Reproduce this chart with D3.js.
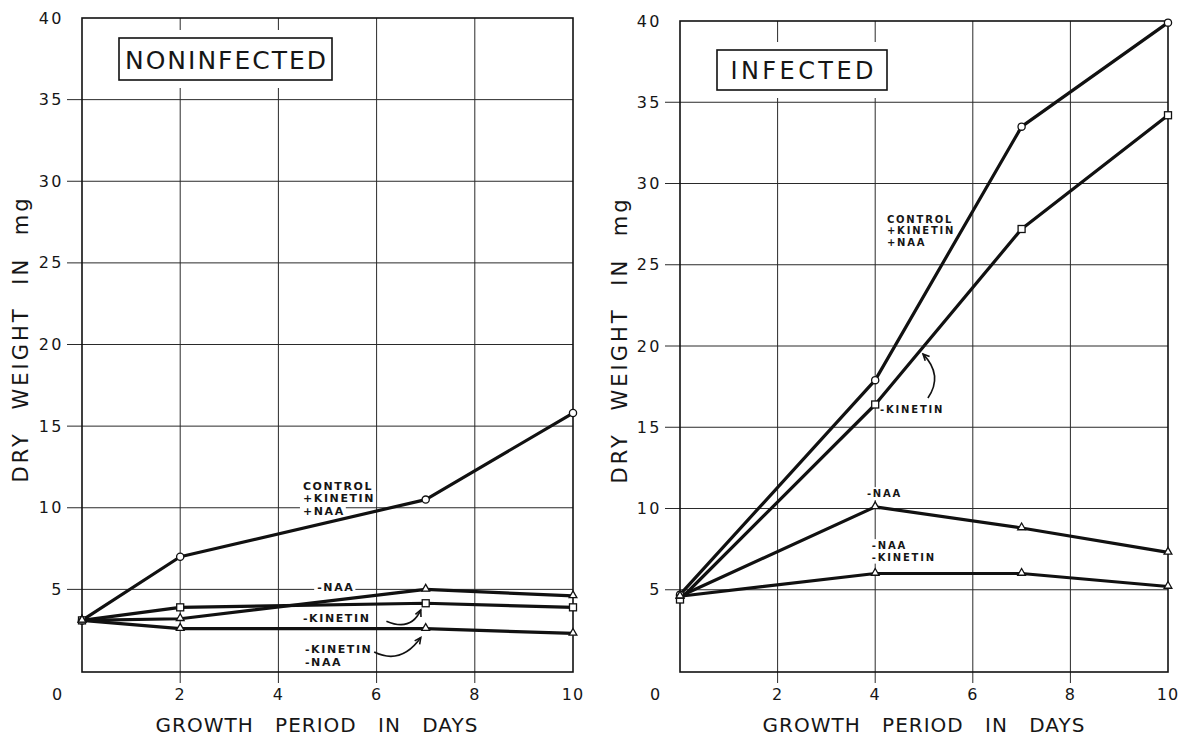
<!DOCTYPE html>
<html><head><meta charset="utf-8">
<script src="https://cdn.jsdelivr.net/npm/d3@7"></script>
<style>
body{margin:0;background:#fff}
svg{display:block}
text{font-family:"DejaVu Sans",sans-serif;fill:#161616}
</style>
</head><body>
<svg id="chart" width="1180" height="739"></svg>
<script>
// ---- data ----
const yTickValues = [5, 10, 15, 20, 25, 30, 35, 40];
const yTickLabels = ["5", "10", "15", "20", "25", "30", "35", "40"];
const xTickValues = [2, 4, 6, 8, 10];
const xTickLabels = ["2", "4", "6", "8", "10"];
const zeroLabel = "0";
const xTitle = "GROWTH PERIOD IN DAYS";
const yTitle = "DRY WEIGHT IN mg";

const nonDays = [0, 2, 7, 10];
const nonControl = [3.1, 7.0, 10.5, 15.8];
const nonMinusKinetin = [3.1, 3.9, 4.15, 3.9];
const nonMinusNAA = [3.1, 3.2, 5.0, 4.6];
const nonMinusBoth = [3.1, 2.6, 2.6, 2.3];

const infDays = [0, 4, 7, 10];
const infControl = [4.7, 17.9, 33.5, 39.9];
const infMinusKinetin = [4.4, 16.4, 27.2, 34.2];
const infMinusNAA = [4.6, 10.1, 8.8, 7.3];
const infMinusBoth = [4.6, 6.0, 6.0, 5.2];

const nonLabels = [
  {lines: ["CONTROL", "+KINETIN", "+NAA"], day: 4.5, value: 11.1},
  {lines: ["-NAA"], day: 4.79, value: 4.9},
  {lines: ["-KINETIN"], day: 4.5, value: 3.0},
  {lines: ["-KINETIN", "-NAA"], day: 4.54, value: 1.1}
];
const infLabels = [
  {lines: ["CONTROL", "+KINETIN", "+NAA"], day: 4.24, value: 27.6},
  {lines: ["-KINETIN"], day: 4.1, value: 15.9},
  {lines: ["-NAA"], day: 3.83, value: 10.7},
  {lines: ["-NAA", "-KINETIN"], day: 3.93, value: 7.5}
];
// arrows: [start, control, end] in (day, value)
const nonArrows = [
  [[6.2, 3.05], [6.7, 2.4], [6.9, 3.74]],
  [[5.95, 1.16], [6.5, 0.35], [6.9, 2.05]]
];
const infArrows = [
  [[5.08, 16.8], [5.4, 18.2], [4.98, 19.5]]
];

// ---- layout ----
const panels = [
  {title: "NONINFECTED", days: nonDays,
   series: [{v: nonControl, m: "circle"}, {v: nonMinusKinetin, m: "square"},
            {v: nonMinusNAA, m: "triangle"}, {v: nonMinusBoth, m: "triangle"}],
   labels: nonLabels, arrows: nonArrows,
   x0: 82, x1: 573, yTop: 18, yZero: 671,
   box: {x: 119, y: 38, w: 213, h: 42, textW: 201, fs: 25},
   labelFs: 11, labelLS: 1.6, lineGap: 12.5, titleX: 20, xTitleC: 317},
  {title: "INFECTED", days: infDays,
   series: [{v: infControl, m: "circle"}, {v: infMinusKinetin, m: "square"},
            {v: infMinusNAA, m: "triangle"}, {v: infMinusBoth, m: "triangle"}],
   labels: infLabels, arrows: infArrows,
   x0: 680, x1: 1168, yTop: 21, yZero: 671,
   box: {x: 717, y: 50, w: 170, h: 40, textW: 143, fs: 24},
   labelFs: 10, labelLS: 1.8, lineGap: 11.5, titleX: 619, xTitleC: 924}
];

const svg = d3.select("#chart");
svg.append("rect").attr("width", 1180).attr("height", 739).attr("fill", "#fff");

panels.forEach(p => {
  const x = d3.scaleLinear().domain([0, 10]).range([p.x0, p.x1]);
  const y = d3.scaleLinear().domain([0, 40]).range([p.yZero, p.yTop]);
  const g = svg.append("g");

  // grid: horizontal lines with outward ticks
  yTickValues.filter(v => v < 40).forEach(v => {
    g.append("line").attr("x1", p.x0 - 15).attr("x2", p.x1)
      .attr("y1", y(v)).attr("y2", y(v))
      .attr("stroke", "#2a2a2a").attr("stroke-width", 1);
  });
  // vertical lines with downward ticks
  xTickValues.filter(v => v < 10).forEach(v => {
    g.append("line").attr("x1", x(v)).attr("x2", x(v))
      .attr("y1", p.yTop).attr("y2", y(0) + 12)
      .attr("stroke", "#2a2a2a").attr("stroke-width", 1);
  });

  // frame
  g.append("rect").attr("x", p.x0).attr("y", p.yTop)
    .attr("width", p.x1 - p.x0).attr("height", y(0) + 1 - p.yTop)
    .attr("fill", "none").attr("stroke", "#111").attr("stroke-width", 1.6);

  // y tick labels
  yTickValues.forEach((v, i) => {
    g.append("text").attr("x", p.x0 - 18).attr("y", y(v))
      .attr("text-anchor", "end").attr("dominant-baseline", "central")
      .attr("font-size", 16).attr("letter-spacing", 2.5)
      .text(yTickLabels[i]);
  });
  // x tick labels
  xTickValues.forEach((v, i) => {
    g.append("text").attr("x", x(v)).attr("y", 700)
      .attr("text-anchor", "middle").attr("font-size", 16).attr("letter-spacing", 1)
      .text(xTickLabels[i]);
  });
  g.append("text").attr("x", p.x0 - 25).attr("y", 700)
    .attr("text-anchor", "middle").attr("font-size", 16).text(zeroLabel);

  // axis titles
  g.append("text").attr("x", p.xTitleC).attr("y", 732)
    .attr("text-anchor", "middle").attr("font-size", 20)
    .attr("letter-spacing", 1).attr("word-spacing", 14)
    .text(xTitle);
  g.append("text")
    .attr("transform", `translate(${p.titleX + 8},${y(12.5) - 128}) rotate(-90)`)
    .attr("text-anchor", "middle").attr("font-size", 21)
    .attr("letter-spacing", 3).attr("word-spacing", 12)
    .text(yTitle);

  // title box
  const b = p.box;
  g.append("rect").attr("x", b.x - 8).attr("y", b.y - 8)
    .attr("width", b.w + 16).attr("height", b.h + 16).attr("fill", "#fff");
  g.append("rect").attr("x", b.x).attr("y", b.y).attr("width", b.w).attr("height", b.h)
    .attr("fill", "#fff").attr("stroke", "#111").attr("stroke-width", 1.6);
  g.append("text").attr("x", b.x + b.w / 2).attr("y", b.y + b.h / 2 + 1)
    .attr("text-anchor", "middle").attr("dominant-baseline", "central")
    .attr("font-size", b.fs).attr("textLength", b.textW).attr("lengthAdjust", "spacing")
    .text(p.title);

  // labels (white backing to break gridlines)
  const labelG = g.append("g");
  const bgG = labelG.append("g");
  const txtNodes = [];
  p.labels.forEach(l => {
    l.lines.forEach((s, k) => {
      const t = labelG.append("text").attr("x", x(l.day)).attr("y", y(l.value) + k * p.lineGap)
        .attr("font-size", p.labelFs).attr("font-weight", "bold")
        .attr("letter-spacing", p.labelLS).text(s);
      txtNodes.push(t.node());
    });
  });
  txtNodes.forEach(n => {
    const bb = n.getBBox();
    bgG.append("rect").attr("x", bb.x - 3).attr("y", bb.y - 1)
      .attr("width", bb.width + 4).attr("height", bb.height + 2).attr("fill", "#fff");
  });

  // data lines
  const line = d3.line().x((d, i) => x(p.days[i])).y(d => y(d));
  p.series.forEach(s => {
    g.append("path").datum(s.v).attr("d", line)
      .attr("fill", "none").attr("stroke", "#111").attr("stroke-width", 3.2)
      .attr("stroke-linejoin", "round");
  });

  // markers
  p.series.forEach(s => {
    s.v.forEach((v, i) => {
      const cx = x(p.days[i]), cy = y(v);
      if (s.m === "circle") {
        g.append("circle").attr("cx", cx).attr("cy", cy).attr("r", 3.6)
          .attr("fill", "#fff").attr("stroke", "#111").attr("stroke-width", 1.3);
      } else if (s.m === "square") {
        g.append("rect").attr("x", cx - 3.5).attr("y", cy - 3.5).attr("width", 7).attr("height", 7)
          .attr("fill", "#fff").attr("stroke", "#111").attr("stroke-width", 1.3);
      } else {
        const sym = d3.symbol().type(d3.symbolTriangle).size(26);
        g.append("path").attr("d", sym()).attr("transform", `translate(${cx},${cy - 0.5})`)
          .attr("fill", "#fff").attr("stroke", "#111").attr("stroke-width", 1.3);
      }
    });
  });

  // arrows
  p.arrows.forEach(a => {
    const [s, c, e] = a.map(d => [x(d[0]), y(d[1])]);
    g.append("path").attr("d", `M${s[0]},${s[1]} Q${c[0]},${c[1]} ${e[0]},${e[1]}`)
      .attr("fill", "none").attr("stroke", "#111").attr("stroke-width", 1.6);
    const ang = Math.atan2(e[1] - c[1], e[0] - c[0]);
    const L = 7;
    const p1 = [e[0] - L * Math.cos(ang - 0.45), e[1] - L * Math.sin(ang - 0.45)];
    const p2 = [e[0] - L * Math.cos(ang + 0.45), e[1] - L * Math.sin(ang + 0.45)];
    g.append("path").attr("d", `M${p1[0]},${p1[1]} L${e[0]},${e[1]} L${p2[0]},${p2[1]}`)
      .attr("fill", "none").attr("stroke", "#111").attr("stroke-width", 1.6);
  });
});
</script>
</body></html>
